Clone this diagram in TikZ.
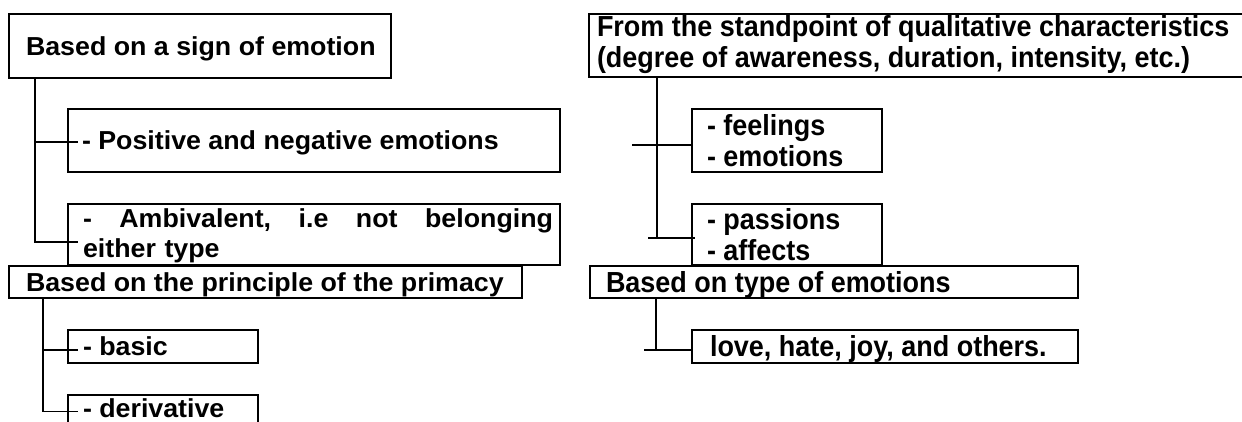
\documentclass[tikz,border=0pt]{standalone}
\usepackage{fontspec}
\newfontfamily\lfont[FakeStretch=1.03]{Liberation Sans}
\newfontfamily\rfont[FakeStretch=0.93]{Liberation Sans}
\begin{document}
\begin{tikzpicture}[x=1pt,y=-1pt,
  box/.style={draw, line width=2.7pt, anchor=north west, inner sep=0pt, outer sep=0pt},
  ltext/.style={inner sep=0pt, outer sep=0pt, align=left, font=\lfont\bfseries\fontsize{26}{30}\selectfont},
  rtext/.style={inner sep=0pt, outer sep=0pt, align=left, font=\rfont\bfseries\fontsize{29}{31}\selectfont},
  conn/.style={line width=1.9pt}]
\useasboundingbox (0,0) rectangle (1242,421);
\clip (0,0) rectangle (1242,421);
\fill[white] (0,0) rectangle (1242,421);

% ---------- left column ----------
\node[box, minimum width=382pt, minimum height=64pt] (A) at (9,14) {};
\node[ltext, anchor=base west] (At) at ([xshift=17pt,yshift=-9.3pt]A.west) {Based on a sign of emotion};

\node[box, minimum width=492pt, minimum height=63pt] (A1) at (68,109) {};
\node[ltext, anchor=base west] (A1t) at ([xshift=14pt,yshift=-9.3pt]A1.west) {- Positive and negative emotions};

\node[box, minimum width=492pt, minimum height=61pt] (A2) at (68,204) {};
\node[ltext, anchor=west, text width=470pt] (A2t) at ([xshift=15pt,yshift=-1.5pt]A2.west)
  {\hbox to 470pt{-\hfill Ambivalent,\hfill i.e\hfill not\hfill belonging}\\either type};

\node[box, minimum width=513pt, minimum height=32pt] (B) at (9,266) {};
\node[ltext, anchor=base west] (Bt) at ([xshift=17pt,yshift=-9.3pt]B.west) {Based on the principle of the primacy};

\node[box, minimum width=190pt, minimum height=33pt] (B1) at (68,330) {};
\node[ltext, anchor=base west] (B1t) at ([xshift=15pt,yshift=-9.3pt]B1.west) {- basic};

\node[box, minimum width=190pt, minimum height=33pt] (B2) at (68,395) {};
\node[ltext, anchor=base west] (B2t) at ([xshift=15pt,yshift=-6pt]B2.west) {- derivative};

% ---------- right column ----------
\node[box, minimum width=680pt, minimum height=63pt] (C) at (589,14) {};
\node[rtext, anchor=west] (Ct) at ([xshift=8pt,yshift=0.5pt]C.west)
  {From the standpoint of qualitative characteristics\\(degree of awareness, duration, intensity, etc.)};

\node[box, minimum width=190pt, minimum height=63pt] (C1) at (692,109) {};
\node[rtext, anchor=west] (C1t) at ([xshift=15pt]C1.west) {- feelings\\- emotions};

\node[box, minimum width=190pt, minimum height=61pt] (C2) at (692,204) {};
\node[rtext, anchor=west] (C2t) at ([xshift=15pt]C2.west) {- passions\\- affects};

\node[box, minimum width=488pt, minimum height=32pt] (D) at (590,266) {};
\node[rtext, anchor=base west] (Dt) at ([xshift=16pt,yshift=-10.4pt]D.west) {Based on type of emotions};

\node[box, minimum width=386pt, minimum height=33pt] (D1) at (692,330) {};
\node[rtext, anchor=base west] (D1t) at ([xshift=18pt,yshift=-10.4pt]D1.west) {love, hate, joy, and others.};

% ---------- connectors ----------
\coordinate (Aroot) at ([xshift=26pt]A.south west);
\coordinate (A1in) at ([xshift=10pt,yshift=-1.5pt]A1.west);
\coordinate (A2in) at ([xshift=10pt,yshift=-7.5pt]A2.west);
\draw[conn] (Aroot) |- (A2in);
\draw[conn] (Aroot |- A1in) -- (A1in);

\coordinate (Broot) at ([xshift=34pt]B.south west);
\coordinate (B1in) at ([xshift=10pt,yshift=-3.5pt]B1.west);
\coordinate (B2in) at ([xshift=10pt]B2.west);
\draw[conn] (Broot) |- (B2in);
\draw[conn] (Broot |- B1in) -- (B1in);

\coordinate (Croot) at ([xshift=68pt]C.south west);
\coordinate (C1s) at ([xshift=-60pt,yshift=-4.5pt]C1.west);
\coordinate (C1in) at ([yshift=-4.5pt]C1.west);
\coordinate (C2s) at ([xshift=-44pt,yshift=-3.5pt]C2.west);
\coordinate (C2in) at ([xshift=3pt,yshift=-3.5pt]C2.west);
\draw[conn] (Croot) -- (Croot |- C2in);
\draw[conn] (C1s) -- (C1in);
\draw[conn] (C2s) -- (C2in);

\coordinate (Droot) at ([xshift=66pt]D.south west);
\coordinate (D1s) at ([xshift=-48pt,yshift=-3.5pt]D1.west);
\coordinate (D1in) at ([yshift=-3.5pt]D1.west);
\draw[conn] (Droot) -- (Droot |- D1in);
\draw[conn] (D1s) -- (D1in);
\end{tikzpicture}
\end{document}
